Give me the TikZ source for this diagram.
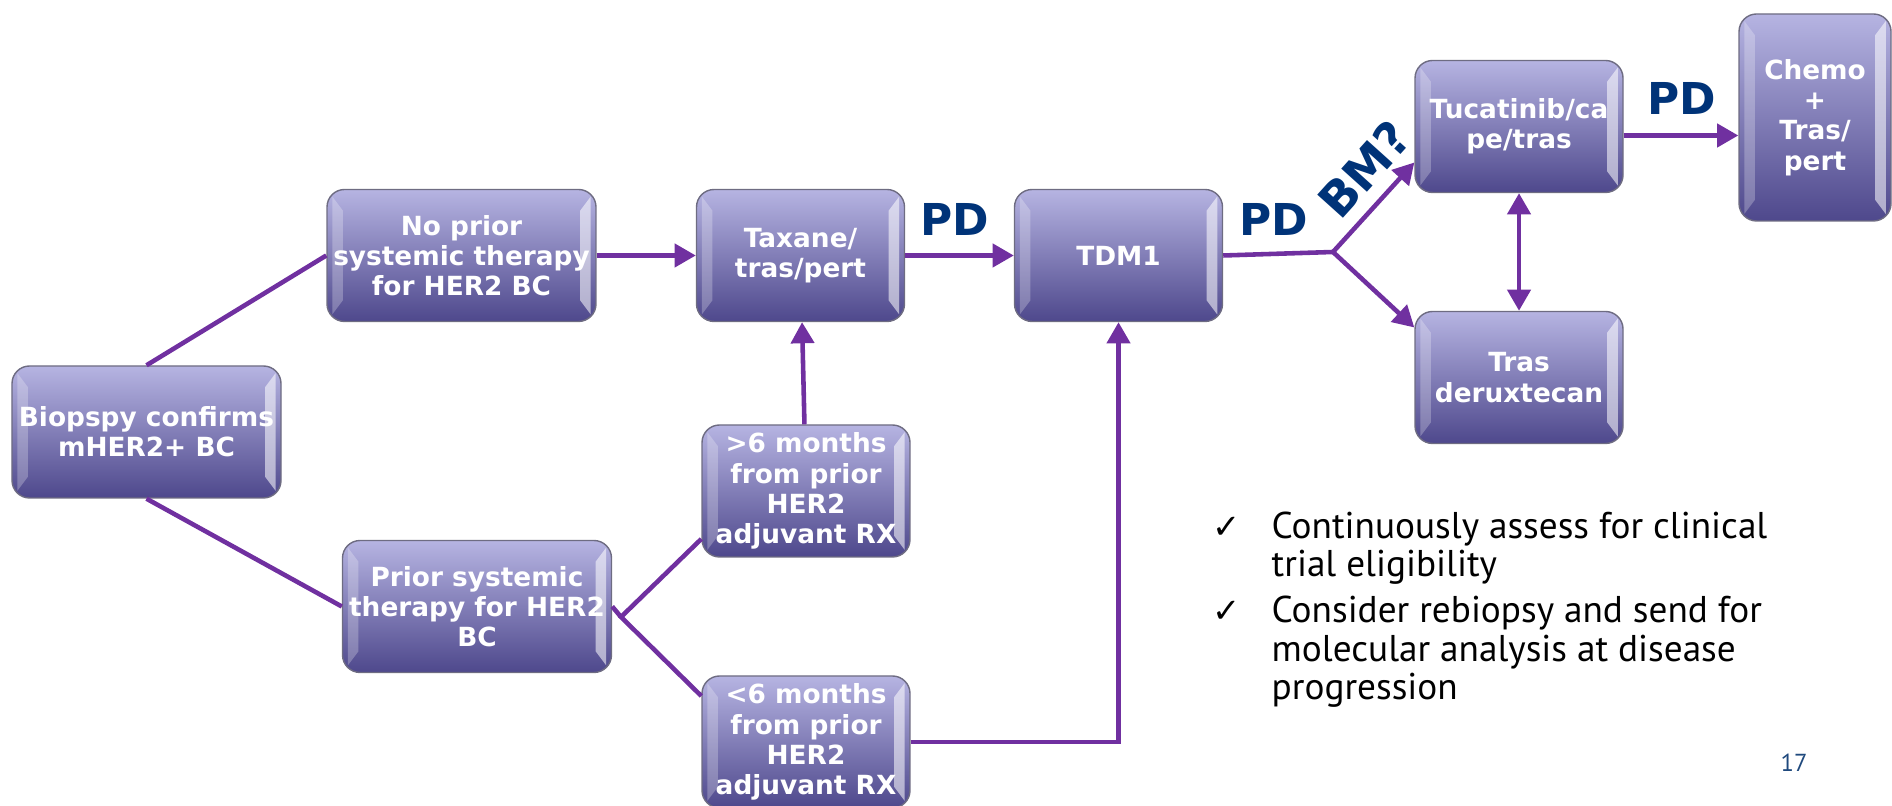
\documentclass[tikz,border=0pt]{standalone}
\usepackage{fontspec}
\setmainfont{DejaVu Sans}
\newfontfamily\notefont{PT Sans}
\newfontfamily\symfont{DejaVu Sans}
\usetikzlibrary{arrows.meta}

\definecolor{boxtop}{RGB}{182,180,226}
\definecolor{boxmid}{RGB}{132,127,188}
\definecolor{boxbot}{RGB}{78,72,140}
\definecolor{boxline}{RGB}{110,108,130}
\definecolor{linkc}{RGB}{112,48,160}
\definecolor{pdblue}{RGB}{0,51,120}
\definecolor{pageblue}{RGB}{31,73,125}

\tikzset{
  stepbox/.style={rectangle, rounded corners=5pt, draw=boxline, line width=0.4pt,
    top color=boxtop, middle color=boxmid, bottom color=boxbot,
    text=white, align=center, inner sep=0pt,
    font=\bfseries\fontsize{7.5}{8.6}\selectfont,
    path picture={
      \fill[white, opacity=0.25, sharp corners]
        ([shift={(1.5pt,-2pt)}]path picture bounding box.north west)
        -- ([shift={(4.5pt,-6pt)}]path picture bounding box.north west)
        -- ([shift={(4.5pt,6pt)}]path picture bounding box.south west)
        -- ([shift={(1.5pt,2pt)}]path picture bounding box.south west) -- cycle;
      \fill[white, opacity=0.55, sharp corners]
        ([shift={(-1.5pt,-2pt)}]path picture bounding box.north east)
        -- ([shift={(-4.5pt,-6pt)}]path picture bounding box.north east)
        -- ([shift={(-4.5pt,6pt)}]path picture bounding box.south east)
        -- ([shift={(-1.5pt,2pt)}]path picture bounding box.south east) -- cycle;
    }},
  widebox/.style={stepbox, minimum width=2.69cm, minimum height=1.32cm},
  narrowbox/.style={stepbox, minimum width=2.08cm, minimum height=1.32cm},
  link/.style={draw=linkc, line width=1.3pt},
  arr/.style={link, -{Triangle[length=6pt,width=6.5pt]}},
  pdlabel/.style={text=pdblue, font=\bfseries\fontsize{12.5}{14}\selectfont}
}

\begin{document}
\begin{tikzpicture}
  \useasboundingbox (0,0) rectangle (18.92,8.06);
  \node (bio) at (1.465,3.74) [widebox] {Biopspy confirms\\mHER2+ BC};
  \node (nopri) at (4.615,5.505) [widebox] {No prior\\systemic therapy\\for HER2 BC};
  \node (prior) at (4.77,1.995) [widebox] {Prior systemic\\therapy for HER2\\BC};
  \node (tax) at (8.005,5.505) [narrowbox] {Taxane/\\tras/pert};
  \node (gt6) at (8.06,3.15) [narrowbox] {>6 months\\from prior\\HER2\\adjuvant RX};
  \node (lt6) at (8.06,0.64) [narrowbox] {<6 months\\from prior\\HER2\\adjuvant RX};
  \node (tdm) at (11.185,5.505) [narrowbox] {TDM1};
  \node (tuc) at (15.19,6.795) [narrowbox] {Tucatinib/ca\\pe/tras};
  \node (trasdx) at (15.19,4.285) [narrowbox] {Tras\\deruxtecan};
  \node (chemo) at (18.15,6.885) [stepbox, minimum width=1.52cm, minimum height=2.07cm] {Chemo\\+\\Tras/\\pert};
  \coordinate (fork1) at (6.21,1.89);
  \coordinate (fork2) at (13.33,5.54);

  \draw[link] (bio.north) -- (nopri.west);
  \draw[link] (bio.south) -- (prior.west);
  \draw[link] (prior.east) -- (fork1);
  \draw[link] ([yshift=-4.8mm]gt6.west) -- (fork1) -- ([yshift=4.6mm]lt6.west);
  \foreach \source/\dest in {nopri/tax, tax/tdm, gt6/tax}
    \path (\source) edge[arr] (\dest);
  \draw[arr] ([yshift=-0.9mm]tuc.east) -- ([yshift=-0.9mm]tuc.east -| chemo.west);
  \draw[arr] (lt6.east) -| (tdm.south);
  \draw[link] (tdm.east) -- (fork2);
  \draw[arr] (fork2) -- ([yshift=-3.6mm]tuc.west);
  \draw[arr] (fork2) -- ([yshift=5mm]trasdx.west);
  \draw[link, {Triangle[length=6pt,width=6.5pt]}-{Triangle[length=6pt,width=6.5pt]}] (tuc.south) -- (trasdx.north);

  \node (pd1) at (9.55,5.86) [pdlabel] {PD};
  \node (pd2) at (12.74,5.86) [pdlabel] {PD};
  \node (bm) at (13.64,6.37) [pdlabel, font=\bfseries\fontsize{13.5}{15}\selectfont, rotate=48, inner sep=0pt] {BM?};
  \node (pd3) at (16.82,7.07) [pdlabel] {PD};

  \node (notes) at (12.12,2.95) [anchor=north west, inner sep=0pt, font=\notefont\fontsize{10.6}{10.9}\selectfont] {%
    \begin{tabular}{@{}p{5.9mm}@{}l@{}}
      {\symfont\fontsize{9.6}{10}\selectfont\char"2713} & Continuously assess for clinical\\
                           & trial eligibility\\[2.2pt]
      {\symfont\fontsize{9.6}{10}\selectfont\char"2713} & Consider rebiopsy and send for\\
                           & molecular analysis at disease\\
                           & progression
    \end{tabular}};
  \node (page) at (17.94,0.43) [text=pageblue, font=\notefont\fontsize{7}{8}\selectfont] {17};
\end{tikzpicture}
\end{document}
